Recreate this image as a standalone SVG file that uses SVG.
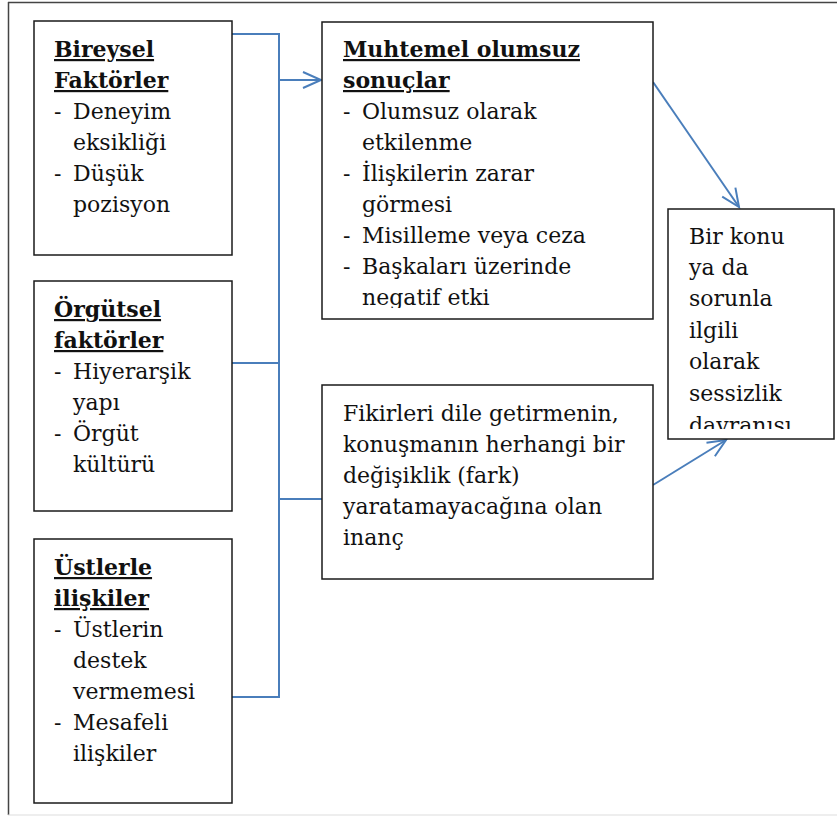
<svg xmlns="http://www.w3.org/2000/svg" width="837" height="816" viewBox="0 0 837 816">
<style>
.box{fill:#fff;stroke:#1a1a1a;stroke-width:1.5}
.t{font-family:"DejaVu Serif",serif;font-size:22px;fill:#111}
.h{font-weight:bold;text-decoration:underline}
.c{fill:none;stroke:#4a7ebb;stroke-width:2}
</style>
<defs>
<marker id="ah" markerUnits="userSpaceOnUse" markerWidth="24" markerHeight="24" viewBox="-20 -12 24 24" refX="0" refY="0" orient="auto">
<path d="M-18,-8 L0,0 L-18,8" fill="none" stroke="#4a7ebb" stroke-width="2"/>
</marker>
<clipPath id="c1"><rect x="322" y="22" width="331" height="286"/></clipPath>
<clipPath id="c2"><rect x="668" y="209" width="166" height="220"/></clipPath>
</defs>
<rect width="837" height="816" fill="#fff"/>
<g id="frame">
<line x1="8" y1="2.5" x2="837" y2="2.5" stroke="#444" stroke-width="1.5"/>
<line x1="8.5" y1="2" x2="8.5" y2="815" stroke="#444" stroke-width="1.5"/>
<line x1="8" y1="815" x2="837" y2="815" stroke="#ddd" stroke-width="1"/>
</g>
<g id="connectors">
<polyline class="c" points="232,34 279,34 279,697 232,697"/>
<line class="c" x1="232" y1="363" x2="279" y2="363"/>
<line class="c" x1="279" y1="80" x2="321" y2="80" marker-end="url(#ah)"/>
<line class="c" x1="279" y1="499" x2="322" y2="499"/>
<line class="c" x1="653" y1="82" x2="739" y2="207" marker-end="url(#ah)"/>
<line class="c" x1="653" y1="485" x2="726" y2="440" marker-end="url(#ah)"/>
</g>
<g id="bireysel">
<rect class="box" x="34" y="21" width="198" height="234"/>
<text class="t"><tspan class="h" x="54" y="57">Bireysel</tspan><tspan class="h" x="54" y="88">Faktörler</tspan><tspan x="54" y="119">-</tspan><tspan x="73" y="119">Deneyim</tspan><tspan x="73" y="150">eksikliği</tspan><tspan x="54" y="181">-</tspan><tspan x="73" y="181">Düşük</tspan><tspan x="73" y="212">pozisyon</tspan></text>
</g>
<g id="orgutsel">
<rect class="box" x="34" y="281" width="198" height="230"/>
<text class="t"><tspan class="h" x="54" y="317">Örgütsel</tspan><tspan class="h" x="54" y="348">faktörler</tspan><tspan x="54" y="379">-</tspan><tspan x="73" y="379">Hiyerarşik</tspan><tspan x="73" y="410">yapı</tspan><tspan x="54" y="441">-</tspan><tspan x="73" y="441">Örgüt</tspan><tspan x="73" y="472">kültürü</tspan></text>
</g>
<g id="ustlerle">
<rect class="box" x="34" y="539" width="198" height="264"/>
<text class="t"><tspan class="h" x="54" y="575">Üstlerle</tspan><tspan class="h" x="54" y="606">ilişkiler</tspan><tspan x="54" y="637">-</tspan><tspan x="73" y="637">Üstlerin</tspan><tspan x="73" y="668">destek</tspan><tspan x="73" y="699">vermemesi</tspan><tspan x="54" y="730">-</tspan><tspan x="73" y="730">Mesafeli</tspan><tspan x="73" y="761">ilişkiler</tspan></text>
</g>
<g id="muhtemel">
<rect class="box" x="322" y="22" width="331" height="297"/>
<text class="t" clip-path="url(#c1)"><tspan class="h" x="343" y="57">Muhtemel olumsuz</tspan><tspan class="h" x="343" y="88">sonuçlar</tspan><tspan x="343" y="119">-</tspan><tspan x="362" y="119">Olumsuz olarak</tspan><tspan x="362" y="150">etkilenme</tspan><tspan x="343" y="181">-</tspan><tspan x="362" y="181">İlişkilerin zarar</tspan><tspan x="362" y="212">görmesi</tspan><tspan x="343" y="243">-</tspan><tspan x="362" y="243">Misilleme veya ceza</tspan><tspan x="343" y="274">-</tspan><tspan x="362" y="274">Başkaları üzerinde</tspan><tspan x="362" y="305">negatif etki</tspan></text>
</g>
<g id="fikirleri">
<rect class="box" x="322" y="385" width="331" height="194"/>
<text class="t"><tspan x="343" y="421">Fikirleri dile getirmenin,</tspan><tspan x="343" y="452">konuşmanın herhangi bir</tspan><tspan x="343" y="483">değişiklik (fark)</tspan><tspan x="343" y="514">yaratamayacağına olan</tspan><tspan x="343" y="545">inanç</tspan></text>
</g>
<g id="sessizlik">
<rect class="box" x="668" y="209" width="166" height="230"/>
<text class="t" clip-path="url(#c2)"><tspan x="689" y="244">Bir konu</tspan><tspan x="689" y="275">ya da</tspan><tspan x="689" y="306">sorunla</tspan><tspan x="689" y="338">ilgili</tspan><tspan x="689" y="369">olarak</tspan><tspan x="689" y="401">sessizlik</tspan><tspan x="689" y="433">davranışı</tspan></text>
</g>
</svg>
